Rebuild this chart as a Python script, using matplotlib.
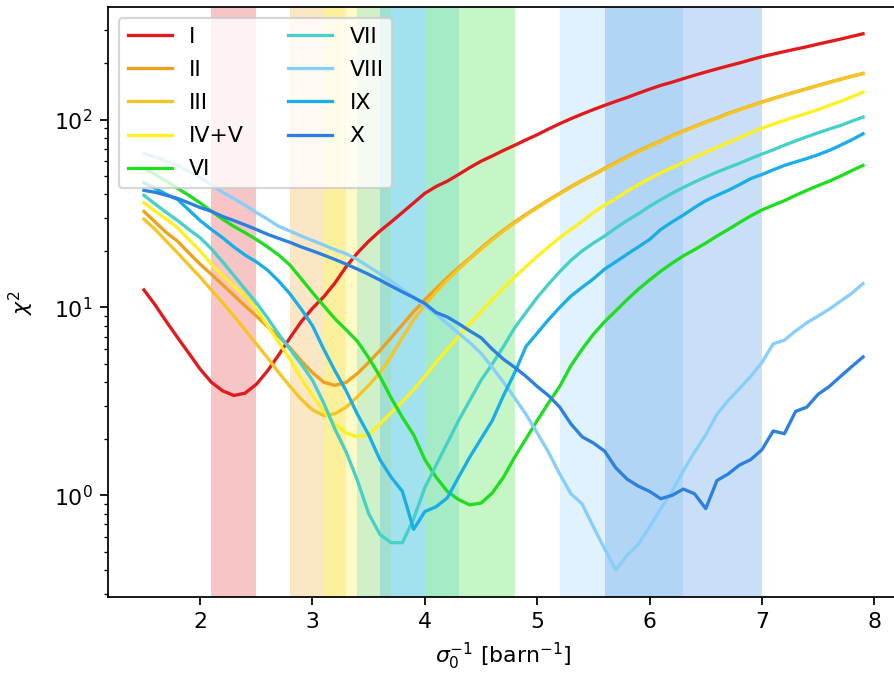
import numpy as np
import matplotlib
matplotlib.use("Agg")
import matplotlib.pyplot as plt

# sigma_0^-1 grid, 1.5 .. 7.9 in steps of 0.1
inv_sigma = np.round(np.arange(1.5, 7.95, 0.1), 1)

labels = ["I", "II", "III", "IV+V", "VI", "VII", "VIII", "IX", "X"]
colors = ["#e31a1c", "#f0a01a", "#f5c623", "#fff020", "#1fdd1f",
          "#45d0c8", "#87cefa", "#1aaee8", "#2b80e0"]

chi_I = [12.4, 10.3, 8.4, 6.9, 5.7, 4.7, 4.0, 3.6, 3.4, 3.5,
         3.9, 4.6, 5.6, 6.9, 8.4, 9.9, 11.4, 13.5, 16.5, 19.5,
         22.5, 25.5, 28.5, 32, 36, 40.5, 44, 47, 51, 55.5,
         60, 64, 68.5, 73, 78, 83, 89, 95, 101, 107,
         113, 119, 125, 131, 138, 145, 152, 158, 165, 172,
         179, 186, 193, 200, 208, 216, 223, 230, 237, 244,
         252, 260, 268, 277, 286]
chi_II = [32.4, 28.5, 25, 22.5, 19.5, 17, 15, 13.2, 11.6, 10.2,
          9.0, 7.9, 7.0, 6.1, 5.2, 4.5, 4.0, 3.85, 4.0, 4.45,
          5.1, 5.9, 6.9, 8.1, 9.5, 11.0, 12.6, 14.4, 16.3, 18.3,
          20.7, 23.2, 25.8, 28.5, 31.3, 34.2, 37.3, 40.5, 44, 47.5,
          51, 55, 59, 63.5, 68, 72.5, 77, 82, 87, 92,
          97, 102, 108, 113, 118.5, 124, 129.5, 135, 140.5, 146,
          152, 158, 164, 170, 176]
chi_III = [29.5, 26, 22.5, 19.5, 16.8, 14.5, 12.4, 10.6, 9.0, 7.6,
           6.4, 5.4, 4.5, 3.8, 3.25, 2.85, 2.66, 2.72, 2.95, 3.35,
           3.85, 4.5, 5.5, 6.9, 8.6, 10.3, 12.1, 14.0, 16.0, 18.1,
           20.4, 22.9, 25.5, 28.2, 31, 33.9, 37, 40.2, 43.6, 47.1,
           50.6, 54.5, 58.5, 63, 67.5, 72, 76.5, 81.5, 86.5, 91.5,
           96.5, 101.5, 107, 112.5, 118, 123.5, 129, 134.5, 140, 145.5,
           151.5, 157.5, 163.5, 169.5, 175.5]
chi_IV = [36, 32.5, 29.5, 26.5, 23, 20, 17, 14.8, 13, 11.5,
          9.8, 8.0, 6.5, 5.3, 4.2, 3.4, 2.8, 2.4, 2.15, 2.05,
          2.1, 2.4, 2.75, 3.15, 3.65, 4.3, 5.1, 6.0, 7.0, 8.2,
          9.5, 11.0, 12.7, 14.5, 16.5, 18.7, 21, 23.5, 26, 28.7,
          32, 35, 38, 41.5, 45, 48.5, 52, 55.5, 59, 63,
          67, 71, 75.5, 80, 85, 90, 94.5, 99, 103.5, 108,
          113, 119, 125, 132, 140]
chi_VI = [55, 51, 47, 43, 39.5, 36, 32.5, 29.5, 27, 25,
          23, 21, 19, 16.8, 14.2, 12, 10.2, 8.7, 7.6, 6.6,
          5.4, 4.3, 3.3, 2.6, 2.1, 1.55, 1.25, 1.05, 0.95, 0.89,
          0.91, 1.03, 1.25, 1.6, 2.0, 2.5, 3.1, 3.8, 4.9, 6.0,
          7.2, 8.4, 9.6, 11, 12.5, 14, 15.6, 17.2, 18.8, 20.3,
          22, 24, 26, 28.3, 30.7, 33, 35, 37, 39.5, 42,
          44.5, 47, 50, 53.5, 57]
chi_VII = [39.5, 35.5, 32, 29, 26, 23.5, 20.5, 17.5, 14.8, 12.5,
           10.6, 8.8, 7.2, 6.0, 5.0, 4.1, 3.1, 2.25, 1.7, 1.2,
           0.8, 0.62, 0.56, 0.56, 0.75, 1.1, 1.45, 1.9, 2.5, 3.2,
           4.1, 5.0, 6.2, 7.8, 9.4, 11.3, 13.3, 15.5, 17.8, 20,
           22, 24, 26.5, 29, 31.5, 34.5, 37.5, 40.5, 43.5, 46.5,
           49.5, 52.5, 55.5, 58.5, 62, 65.5, 69, 73, 77, 81,
           85, 89, 93, 98, 103]
chi_VIII = [66, 63, 60, 57, 53, 49, 45, 41, 38, 35,
            32, 29.5, 27, 25.5, 24, 22.7, 21.5, 20.3, 19.3, 18,
            16.5, 15.1, 13.8, 12.5, 11.3, 10.2, 9.2, 8.2, 7.3, 6.5,
            5.7, 4.8, 4.0, 3.3, 2.7, 2.15, 1.7, 1.3, 1.02, 0.9,
            0.68, 0.52, 0.4, 0.48, 0.55, 0.68, 0.85, 1.05, 1.35, 1.7,
            2.1, 2.7, 3.2, 3.7, 4.3, 5.1, 6.4, 6.7, 7.5, 8.3,
            9.0, 9.8, 10.8, 11.9, 13.4]
chi_IX = [46, 43, 40, 37.5, 33, 29, 26, 23.5, 21, 19,
          17.5, 15.8, 13.8, 11.8, 9.8, 8.0, 6.0, 4.6, 3.6, 2.7,
          2.1, 1.55, 1.25, 1.05, 0.66, 0.82, 0.87, 0.97, 1.25, 1.6,
          2.0, 2.5, 3.4, 4.5, 6.2, 7.3, 8.6, 10.0, 11.5, 12.8,
          14.2, 16.0, 17.5, 19.2, 21, 23, 26, 28.5, 31, 34,
          37, 39.5, 42, 45, 48.5, 51, 54, 57, 59.5, 62,
          65, 68.5, 73, 78, 84]
chi_X = [42, 41, 39.5, 38, 36, 34, 32.5, 30.5, 29, 27.5,
         26, 24.5, 23.3, 22.2, 21, 20, 19, 18, 17, 16,
         15, 14, 13, 12.1, 11.3, 10.5, 9.4, 8.9, 8.2, 7.5,
         6.9, 6.0, 5.3, 4.8, 4.3, 3.8, 3.4, 2.95, 2.4, 2.05,
         1.9, 1.72, 1.4, 1.22, 1.12, 1.05, 0.96, 1.0, 1.08, 1.02,
         0.85, 1.2, 1.3, 1.45, 1.55, 1.75, 2.2, 2.13, 2.8, 2.95,
         3.45, 3.8, 4.3, 4.85, 5.45]

# expected sigma_0^-1 window for each group
band_lo = [2.1, 2.8, 3.1, 3.1, 4.0, 3.4, 5.2, 3.6, 5.6]
band_hi = [2.5, 3.1, 3.3, 3.7, 4.8, 4.3, 6.3, 4.0, 7.0]

series = [chi_I, chi_II, chi_III, chi_IV, chi_VI, chi_VII, chi_VIII, chi_IX, chi_X]

fig = plt.figure(figsize=(894 / 158, 676 / 158), dpi=158)
ax = fig.add_axes([0.1208, 0.1169, 0.8848, 0.8728])

for lo, hi, c in zip(band_lo, band_hi, colors):
    ax.axvspan(lo, hi, color=c, alpha=0.25, lw=0)

for y, lab, c in zip(series, labels, colors):
    ax.plot(inv_sigma, y, color=c, lw=1.5, label=lab)

ax.set_yscale("log")
ax.set_xlabel(r"$\sigma_0^{-1}$ [barn$^{-1}$]")
ax.set_ylabel(r"$\chi^2$", labelpad=8)
ax.legend(loc="upper left", ncol=2, labelspacing=0.6)

fig.savefig("out.png", dpi=158)
